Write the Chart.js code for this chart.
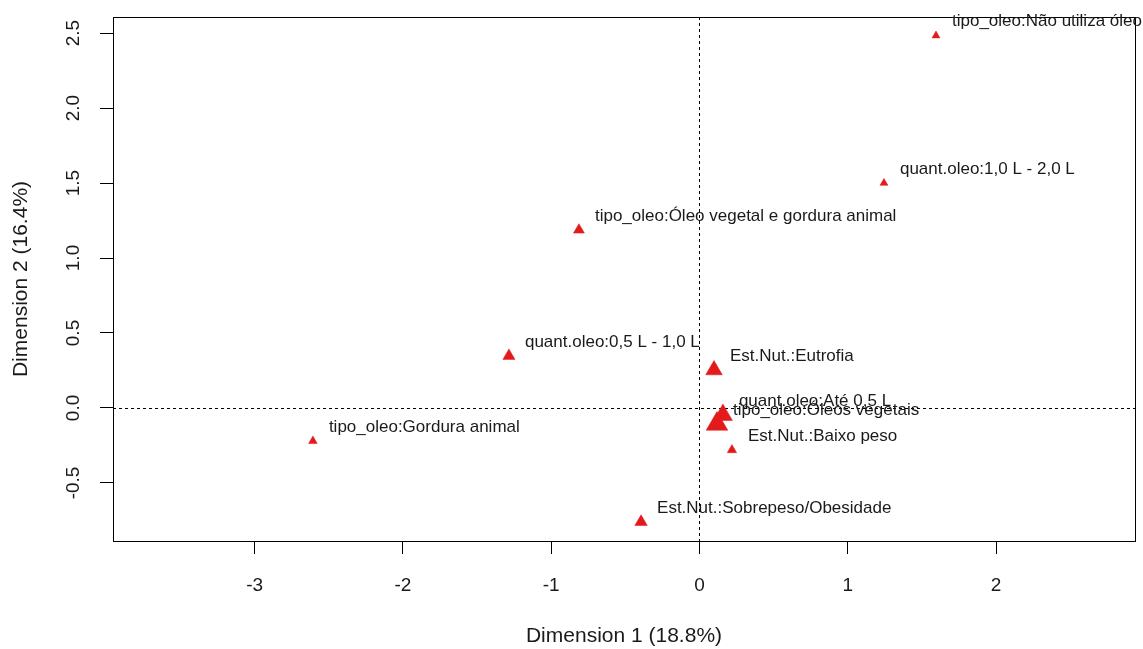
<!DOCTYPE html>
<html lang="pt">
<head>
<meta charset="utf-8">
<title>MCA - Dimension 1 x Dimension 2</title>
<script src="https://cdn.jsdelivr.net/npm/chart.js@4/dist/chart.umd.min.js"></script>
<style>
  html, body { margin: 0; padding: 0; background: #ffffff; }
  .c-chart { width: 1143px; height: 649px; }
</style>
</head>
<body>
<div class="c-chart"><canvas id="mcaChart" width="1143" height="649"></canvas></div>
<script>
const categorias = [
  "tipo_oleo:Não utiliza óleo",
  "quant.oleo:1,0 L - 2,0 L",
  "tipo_oleo:Óleo vegetal e gordura animal",
  "quant.oleo:0,5 L - 1,0 L",
  "Est.Nut.:Eutrofia",
  "quant.oleo:Até 0,5 L",
  "tipo_oleo:Óleos vegetais",
  "Est.Nut.:Baixo peso",
  "tipo_oleo:Gordura animal",
  "Est.Nut.:Sobrepeso/Obesidade"
];
const dim1 = [1.595, 1.244, -0.813, -1.285, 0.098, 0.158, 0.118, 0.219, -2.607, -0.394];
const dim2 = [2.483, 1.500, 1.187, 0.347, 0.253, -0.047, -0.107, -0.280, -0.220, -0.760];
const xTicks = [-3, -2, -1, 0, 1, 2];
const yTicks = [-0.5, 0.0, 0.5, 1.0, 1.5, 2.0, 2.5];

// marker sizes (style only)
const tamanhos = [4.6, 4.6, 6.3, 7.0, 9.6, 11, 12.5, 5.4, 5.0, 7.2];

const fonte = "'Liberation Sans', Arial, sans-serif";
const vermelho = "#e31a1c";

let chart;
let ctx;

const eixosPlugin = {
  id: "eixos",
  beforeDatasetsDraw: function (c) {
    const area = c.chartArea;
    const x0 = c.scales.x.getPixelForValue(0);
    const y0 = c.scales.y.getPixelForValue(0);
    const g = c.ctx;
    g.save();
    g.strokeStyle = "#000000";
    g.lineWidth = 1;
    g.setLineDash([3, 3]);
    g.beginPath();
    g.moveTo(Math.round(x0) + 0.5, area.top);
    g.lineTo(Math.round(x0) + 0.5, area.bottom);
    g.moveTo(area.left, Math.round(y0) + 0.5);
    g.lineTo(area.right, Math.round(y0) + 0.5);
    g.stroke();
    g.setLineDash([]);
    g.strokeRect(area.left + 0.5, area.top + 0.5, area.right - area.left, area.bottom - area.top);
    g.restore();
  },
  afterDraw: function (c) {
    const g = c.ctx;
    const sy = c.scales.y;
    g.save();
    // y tick labels, rotated like R
    g.fillStyle = "#1a1a1a";
    g.font = `19px ${fonte}`;
    g.textAlign = "center";
    g.textBaseline = "middle";
    for (const v of yTicks) {
      g.save();
      g.translate(74, sy.getPixelForValue(v));
      g.rotate(-Math.PI / 2);
      g.fillText(v.toFixed(1), 0, 0);
      g.restore();
    }
    // point labels
    const meta = c.getDatasetMeta(0);
    g.font = `17px ${fonte}`;
    g.textAlign = "left";
    for (let i = 0; i < meta.data.length; i++) {
      const p = meta.data[i];
      g.fillText(categorias[i], p.x + 16, p.y - 14);
    }
    g.restore();
  }
};

const fixarTicks = function (lista) {
  return function (scale) {
    scale.ticks = lista.map(function (v) { return { value: v }; });
  };
};

const desenharGrafico = function () {
  ctx = document.getElementById("mcaChart").getContext("2d");
  let pontos = [];
  for (let i = 0; i < dim1.length; i++) {
    pontos.push({ x: dim1[i], y: dim2[i] });
  }
  chart = new Chart(ctx, {
    type: "scatter",
    data: {
      datasets: [{
        label: "categorias",
        data: pontos,
        pointStyle: "triangle",
        pointRadius: tamanhos,
        pointHoverRadius: tamanhos,
        backgroundColor: vermelho,
        borderColor: vermelho,
        borderWidth: 0.5
      }]
    },
    options: {
      responsive: false,
      animation: false,
      layout: { autoPadding: false, padding: { top: 17, right: 8, left: 0, bottom: 0 } },
      plugins: {
        legend: { display: false },
        tooltip: { enabled: false }
      },
      scales: {
        x: {
          type: "linear",
          min: -3.955,
          max: 2.937,
          afterBuildTicks: fixarTicks(xTicks),
          afterFit: function (s) {
            s.height = 108;
            s.paddingLeft = 0;
            s.paddingRight = 0;
          },
          grid: { drawOnChartArea: false, drawTicks: true, tickLength: 13, color: "#000000" },
          border: { display: true, color: "#000000" },
          ticks: {
            color: "#1a1a1a",
            padding: 20,
            font: { family: fonte, size: 19 },
            callback: function (v) { return String(v); }
          },
          title: {
            display: true,
            text: "Dimension 1 (18.8%)",
            color: "#1a1a1a",
            font: { family: fonte, size: 21 },
            padding: { top: 0, bottom: 0 }
          }
        },
        y: {
          type: "linear",
          min: -0.887,
          max: 2.607,
          afterBuildTicks: fixarTicks(yTicks),
          afterFit: function (s) {
            s.width = 113;
            s.paddingTop = 0;
            s.paddingBottom = 0;
          },
          grid: { drawOnChartArea: false, drawTicks: true, tickLength: 13, color: "#000000" },
          border: { display: true, color: "#000000" },
          ticks: { display: false },
          title: {
            display: true,
            text: "Dimension 2 (16.4%)",
            color: "#1a1a1a",
            font: { family: fonte, size: 21 },
            padding: { top: 9, bottom: 0 }
          }
        }
      }
    },
    plugins: [eixosPlugin]
  });
};

document.addEventListener("DOMContentLoaded", function () {
  desenharGrafico();
});
</script>
</body>
</html>
